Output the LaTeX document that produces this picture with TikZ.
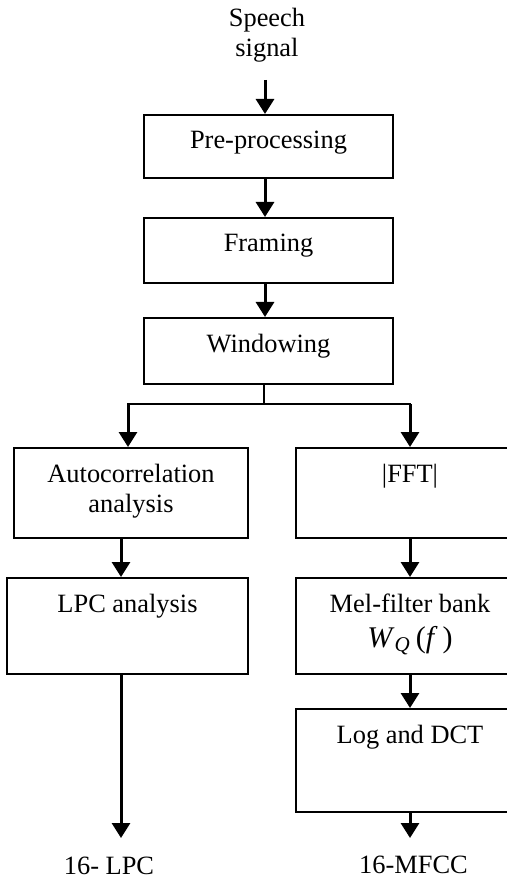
\documentclass[tikz,border=0pt]{standalone}
\usepackage{fontspec}
\setmainfont{Liberation Serif}
\usetikzlibrary{arrows.meta}
\newcommand\tsz{\fontsize{13.2}{15}\selectfont}

\begin{document}
\begin{tikzpicture}[x=0.5pt, y=-0.5pt,
  box/.style={draw, line width=1pt, inner sep=0pt},
  txt/.style={anchor=base, yshift=#1, font=\tsz}, txt/.default=-17.5pt,
  arr/.style={line width=1.5pt, -{Triangle[width=9pt,length=7.5pt]}}]
\path[use as bounding box, clip] (0,0) rectangle (507,881);
\node[font=\tsz, align=center, inner sep=0pt] (src) at (267,35.5) {Speech\\signal};
\node[box, minimum width=124.5pt, minimum height=31.5pt, label={[txt]north:Pre-processing}] (pre) at (268.5,146.5) {};
\node[box, minimum width=124.5pt, minimum height=32.5pt, label={[txt]north:Framing}] (frm) at (268.5,250.5) {};
\node[box, minimum width=124.5pt, minimum height=33pt, label={[txt]north:Windowing}] (win) at (268.5,351) {};
\node[box, minimum width=117pt, minimum height=45pt, label={[txt]north:Autocorrelation}, label={[txt=-32.5pt]north:analysis}] (auto) at (131,493) {};
\node[box, minimum width=114pt, minimum height=45pt, label={[txt]north:|FFT|}] (fft) at (410,493) {};
\node[box, minimum width=120.5pt, minimum height=48pt, label={[txt]north:LPC analysis}] (lpc) at (127.5,626) {};
\node[box, minimum width=114pt, minimum height=48pt, label={[txt]north:Mel-filter bank}, label={[txt=-35pt]north:{\fontsize{15}{18}\selectfont\textit{W}\textsubscript{\textit{Q}}\,(\textit{f}\,)}}] (mel) at (410,626) {};
\node[box, minimum width=114pt, minimum height=51.5pt, label={[txt]north:Log and DCT}] (dct) at (410,760.5) {};
\node[font=\tsz, anchor=base, inner sep=0pt] (lpcout) at (109,874) {16- LPC};
\node[font=\tsz, anchor=base, inner sep=0pt] (mfccout) at (413.5,873) {16-MFCC};
% connectors
\coordinate (mid) at (265,80);
\coordinate (sp) at (264,404);
\coordinate (bl) at (128,404);
\coordinate (br) at (410,404);
\coordinate (lc) at (121,838);
\coordinate (rc) at (410,838);
\draw[arr] (mid) -- (mid |- pre.north);
\draw[arr] (pre.south -| mid) -- (mid |- frm.north);
\draw[arr] (frm.south -| mid) -- (mid |- win.north);
\draw[line width=1.2pt] (win.south -| sp) -- (sp);
\draw[line width=1.2pt, line cap=rect] (bl) -- (br);
\draw[arr] (bl) -- (bl |- auto.north);
\draw[arr] (br) -- (br |- fft.north);
\draw[arr] (auto.south -| lc) -- (lc |- lpc.north);
\draw[arr] (lpc.south -| lc) -- (lc);
\draw[arr] (fft.south -| rc) -- (rc |- mel.north);
\draw[arr] (mel.south -| rc) -- (rc |- dct.north);
\draw[arr] (dct.south -| rc) -- (rc);
\end{tikzpicture}
\end{document}
